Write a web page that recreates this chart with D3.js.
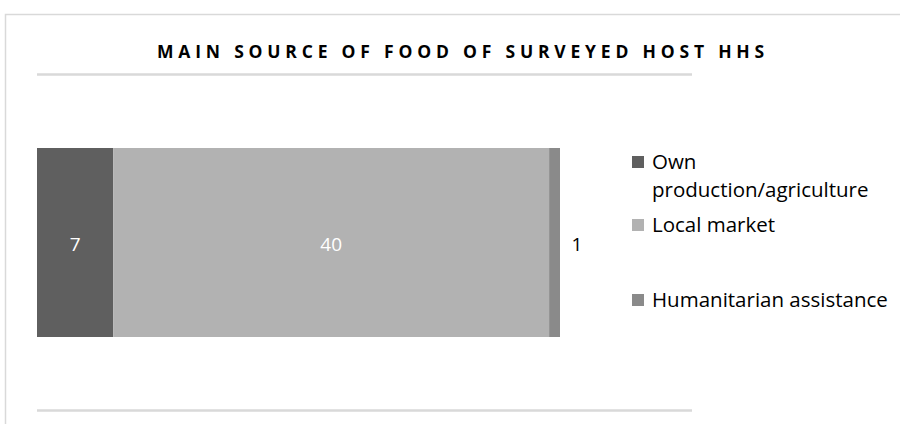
<!DOCTYPE html>
<html>
<head>
<meta charset="utf-8">
<script src="https://cdn.jsdelivr.net/npm/d3@7"></script>
<style>
  body { margin: 0; background: #fff; }
  svg { display: block; }
</style>
</head>
<body>
<div id="chart"></div>
<script>
// data
let categories = ['Own production/agriculture', 'Local market', 'Humanitarian assistance']
let values = [7, 40, 1]
let colors = ['#5f5f5f', '#b2b2b2', '#8a8a8a']
let title = 'MAIN SOURCE OF FOOD OF SURVEYED HOST HHS'

let width = 900, height = 424
let margin = {left: 37, right: 340, top: 148, bottom: 87}

let svg = d3.select('#chart').append('svg')
  .attr('width', width)
  .attr('height', height)

// chart area border (only the left/top edges show in frame)
svg.append('rect')
  .attr('x', 5.5).attr('y', 14.5)
  .attr('width', 1000).attr('height', 1000)
  .attr('fill', 'none')
  .attr('stroke', '#d9d9d9')
  .attr('stroke-width', 1.5)

svg.append('text')
  .attr('x', 463)
  .attr('y', 57.5)
  .attr('text-anchor', 'middle')
  .attr('font-family', 'Open Sans, sans-serif')
  .attr('font-weight', 'bold')
  .attr('font-size', '17.5px')
  .attr('letter-spacing', '4.8px')
  .attr('fill', '#000')
  .text(title)

// the two gray rules above and below the plot
let rules = [74.5, 410.5]
svg.selectAll('.rule')
  .data(rules)
  .enter().append('line')
  .attr('class', 'rule')
  .attr('x1', 37).attr('x2', 692)
  .attr('y1', d => d).attr('y2', d => d)
  .attr('stroke', '#d9d9d9')
  .attr('stroke-width', 2.5)

let total = d3.sum(values)
let x = d3.scaleLinear()
  .domain([0, total])
  .range([margin.left, 560])

let y = d3.scaleBand()
  .domain(['HHs'])
  .range([margin.top, 337])
  .paddingInner(0)

let stacked = []
let acc = 0
values.forEach(function(v, i) {
  stacked.push({name: categories[i], value: v, x0: acc, x1: acc + v, color: colors[i]})
  acc += v
})

let g = svg.append('g')

g.selectAll('rect.seg')
  .data(stacked)
  .enter().append('rect')
  .attr('class', 'seg')
  .attr('x', d => x(d.x0))
  .attr('y', y('HHs'))
  .attr('width', d => x(d.x1) - x(d.x0))
  .attr('height', y.bandwidth())
  .attr('fill', d => d.color)

g.selectAll('text.val')
  .data(stacked)
  .enter().append('text')
  .attr('class', 'val')
  .attr('x', d => d.value < 3 ? x(d.x1) + 17 : (x(d.x0) + x(d.x1)) / 2)
  .attr('y', 251)
  .attr('text-anchor', 'middle')
  .attr('font-family', 'Open Sans, sans-serif')
  .attr('font-size', '19px')
  .attr('fill', d => d.value < 3 ? '#000' : '#fff')
  .text(d => d.value)

// legend
let legendY = [169, 232, 307]
let legend = svg.selectAll('.legend')
  .data(stacked)
  .enter().append('g')
  .attr('class', 'legend')
  .attr('transform', (d, i) => 'translate(632,' + legendY[i] + ')')

legend.append('rect')
  .attr('x', 0).attr('y', -13)
  .attr('width', 12).attr('height', 12)
  .attr('fill', d => d.color)

legend.append('text')
  .attr('x', 20)
  .attr('y', 0)
  .attr('font-family', 'Open Sans, sans-serif')
  .attr('font-size', '20.5px')
  .attr('fill', '#000')
  .each(function(d) {
    let t = d3.select(this)
    let parts = d.name === 'Own production/agriculture' ? ['Own', 'production/agriculture'] : [d.name]
    parts.forEach(function(p, j) {
      t.append('tspan').attr('x', 20).attr('dy', j === 0 ? 0 : 28).text(p)
    })
  })
</script>
</body>
</html>
